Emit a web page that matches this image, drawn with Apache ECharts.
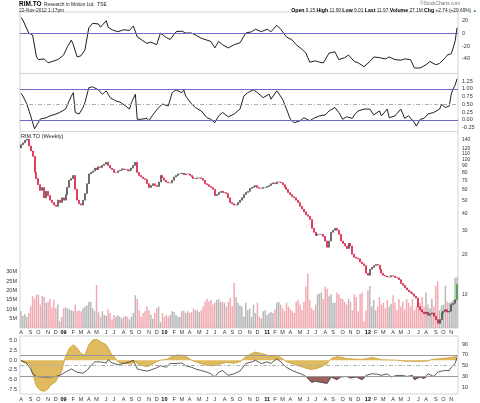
<!DOCTYPE html>
<html>
<head>
<meta charset="utf-8">
<title>RIM.TO weekly</title>
<script src="https://cdn.jsdelivr.net/npm/echarts@6/dist/echarts.min.js"></script>
<style>
  html, body { margin: 0; padding: 0; background: #fff; }
  #chart { width: 480px; height: 403px; }
</style>
</head>
<body>
<div id="chart"></div>
<script>
'use strict';

// weekly closes, Aug 1 2008 .. Nov 23 2012
var firstOpen = 121;
var closes = [
  128, 132, 138, 140, 125, 115, 105, 80, 72, 65,
  59, 62, 52, 58, 54, 50, 48, 46, 45, 50,
  48, 52, 50, 55, 62, 70, 72, 76, 60, 50,
  47, 46, 50, 56, 66, 78, 80, 82, 86, 84,
  88, 87, 90, 92, 95, 90, 86, 84, 80, 80,
  82, 83, 85, 84, 84, 82, 83, 86, 90, 95,
  80, 76, 74, 72, 71, 66, 62, 64, 66, 64,
  63, 68, 76, 73, 70, 68, 67, 67, 70, 74,
  76, 78, 78, 79, 77, 78, 78, 76, 74, 72,
  72, 73, 73, 72, 70, 66, 65, 63, 62, 60,
  54, 55, 57, 58, 57, 57, 56, 52, 48, 47,
  46, 46, 48, 50, 52, 55, 57, 58, 61, 62,
  63, 64, 62, 61, 61, 62, 62, 63, 64, 66,
  67, 66, 68, 68, 67, 65, 62, 60, 57, 55,
  53, 52, 50, 48, 45, 43, 41, 39, 38, 36,
  31, 29, 27.5, 28, 28, 28, 27, 25, 22.5, 25,
  29, 30, 31, 30, 28, 25, 24, 23, 22, 24,
  23, 20, 19, 18.7, 18.5, 17.5, 17, 16.5, 14.5, 14,
  15.5, 16, 16.5, 16.8, 16.6, 15.5, 14.5, 14, 13.8, 13.6,
  13.6, 13.9, 13.8, 13.5, 13.4, 13.0, 12.2, 11.8, 11.3, 10.9,
  10.6, 10.4, 10.2, 9.8, 9.5, 8.2, 7.8, 7.5, 7.3, 7.5,
  7.1, 7.3, 7.4, 7.0, 6.6, 6.2, 6.6, 7.4, 7.6, 7.8,
  7.5, 7.6, 8.5, 8.7, 9.23, 11.97
];

// weekly volume, millions
var volumes = [
  9, 6.5, 7.5, 6, 8, 11.6, 17, 15.5, 17.6, 18,
  12.5, 17, 16.5, 13.5, 14, 15.5, 11, 15, 10.5, 12.5,
  3.5, 6, 10.5, 11, 10.5, 10, 9.5, 9, 12.5, 9,
  9.5, 9, 10.5, 11.3, 12, 14, 14, 10.5, 9, 23,
  8.5, 6, 9, 7, 6.5, 10, 8, 4.5, 7, 6,
  7, 6, 5, 6, 6.5, 6, 4.5, 6, 8, 17.5,
  15.5, 9.5, 6, 8, 9, 11.5, 9.5, 7, 5, 8,
  10.5, 11.5, 3, 8, 6, 7, 6, 7, 9, 8.5,
  7, 6, 6, 9, 9.5, 8, 9, 8, 8.5, 10.5,
  9.5, 9.5, 8.5, 9.5, 11.5, 14.2, 15.5, 14.2, 15, 12.5,
  13.5, 15, 15.5, 14, 14, 13.5, 11.5, 14, 16, 11.5,
  24, 16.5, 13.5, 12, 11.5, 6, 13.5, 9.5, 10.5, 6,
  12.5, 8, 13.5, 6, 5, 9, 9.5, 7, 8, 8.5,
  8, 10, 13.5, 14, 12.5, 10.5, 9, 13.5, 11.5, 10,
  9, 8, 14, 15, 12.5, 9.5, 14, 22, 29, 15,
  10.5, 9.5, 12.5, 18, 18.4, 19, 15.5, 22, 21, 17,
  18, 13.5, 13.5, 19, 18, 16, 15.5, 14, 12.5, 15.5,
  14, 9.5, 18, 16.5, 9, 18, 19, 3.5, 9.5, 20,
  22.5, 11.5, 15, 9.5, 11.5, 16.5, 12.5, 13.5, 10.5, 15,
  11.5, 13, 17.5, 13.5, 9.5, 15.5, 11.5, 14, 10, 15.5,
  13.5, 11.5, 15.5, 9.5, 11.5, 14, 13.5, 16.5, 11.5, 19,
  12.5, 10.5, 15.5, 11.5, 22.5, 25, 9.5, 12, 12.5, 22.5,
  14, 13.5, 14, 15, 26.8, 27.1
];

// top oscillator [week, value]
var oscTop = [
  [0, 24], [1, 20], [2, 17], [4, 0], [6, -3], [8, -37], [9, -41], [12, -40], [14, -46],
  [17, -43], [19, -41], [22, -34], [24, -21], [26, -11], [27, -18], [29, -37], [31, -35],
  [33, -26], [35, 8], [37, 15], [40, 14], [41, 9], [44, 19], [45, 9], [47, 5], [50, 2],
  [53, 5], [56, 4], [58, 11], [60, -6], [62, -10], [65, -16], [67, -14], [70, -18],
  [72, 0], [75, -7], [77, -10], [80, 2], [83, 3], [85, 0], [88, 0], [90, -3], [93, -8],
  [96, -11], [98, -13], [100, -23], [102, -13], [104, -18], [107, -23], [110, -18],
  [113, -15], [116, 0], [119, 2], [121, 6], [124, 2], [127, 6], [129, 2], [132, 12],
  [134, 6], [137, -6], [140, -11], [142, -18], [145, -25], [147, -31], [149, -45],
  [152, -43], [154, -45], [156, -46], [159, -31], [162, -29], [164, -41], [167, -38],
  [169, -34], [172, -44], [174, -46], [177, -52], [180, -44], [182, -37], [185, -38],
  [188, -40], [190, -37], [193, -41], [196, -42], [198, -40], [201, -41], [203, -54],
  [206, -54], [209, -49], [211, -44], [214, -49], [216, -47], [219, -38], [220, -34],
  [222, -32], [223, -23], [224, -13], [225, 8]
];

// second oscillator [week, value]
var oscMid = [
  [0, 0.86], [1, 0.77], [3, 0.52], [5, 0.13], [6, 0.07], [7, -0.29], [10, 0.03], [13, 0.07],
  [15, 0.13], [18, 0.19], [20, 0.24], [23, 0.35], [26, 0.77], [27, 0.88], [28, 0.24],
  [30, 0.19], [32, 0.40], [33, 0.56], [35, 1.04], [37, 1.07], [40, 0.97], [42, 0.83],
  [44, 0.94], [46, 0.72], [49, 0.61], [51, 0.58], [54, 0.45], [56, 0.35], [57, 0.56],
  [59, 0.83], [60, 0.02], [62, 0.02], [65, 0.05], [66, -0.03], [68, 0.16], [71, 0.40],
  [73, 0.51], [76, 0.45], [78, 0.88], [80, 0.97], [83, 0.88], [84, 0.97], [85, 0.77],
  [88, 0.52], [90, 0.40], [93, 0.29], [96, 0.07], [98, 0.02], [100, -0.09], [102, 0.13],
  [104, 0.24], [107, 0.10], [110, 0.19], [113, 0.35], [114, 0.29], [115, 0.77], [117, 0.88],
  [120, 0.97], [122, 0.88], [125, 0.72], [128, 0.83], [129, 0.67], [132, 0.94], [133, 1.0],
  [135, 0.67], [137, 0.35], [139, 0.02], [141, -0.09], [144, -0.03], [146, 0.07],
  [149, -0.03], [151, 0.05], [154, 0.13], [157, 0.16], [159, 0.29], [162, 0.40], [164, 0.24],
  [166, 0.02], [168, 0.10], [171, 0.05], [172, 0.16], [174, 0.29], [177, 0.35], [180, 0.35],
  [182, 0.16], [185, 0.29], [186, 0.13], [189, 0.35], [190, 0.07], [193, 0.13], [196, 0.35],
  [198, 0.05], [200, 0.13], [203, -0.09], [204, -0.20], [206, 0.02], [208, 0.05],
  [210, 0.19], [213, 0.24], [216, 0.35], [217, 0.50], [219, 0.40], [221, 0.45], [222, 0.83],
  [223, 1.0], [224, 1.12], [225, 1.33]
];

// bottom panel histogram (left axis) [week, value]
var macdHist = [
  [0, -0.3], [2, -0.6], [4, -0.9], [5, -1.5], [6, -3.4], [8, -6.8], [10, -7.8], [12, -8.1],
  [14, -7.4], [15, -6.6], [18, -5.5], [19, -4.6], [21, -2.9], [22, -0.9], [23, 1.0],
  [25, 3.1], [27, 4.0], [29, 3.1], [31, 1.7], [33, 1.3], [35, 4.0], [37, 5.2], [39, 5.4],
  [41, 4.8], [44, 4.0], [45, 3.5], [47, 1.3], [49, 0.4], [50, -0.4], [52, -0.8], [57, -1.0],
  [59, -0.2], [60, -0.9], [62, -1.3], [65, -1.7], [67, -1.3], [70, -0.4], [72, 0], [75, 0.2],
  [77, 0.7], [80, 1.3], [83, 1.3], [85, 1.0], [88, 0], [90, -0.4], [93, -0.9], [96, -1.3],
  [98, -1.5], [101, -1.3], [103, -0.9], [106, -0.6], [110, -0.8], [113, -0.4], [116, 0.9],
  [119, 1.7], [121, 2.1], [124, 1.7], [127, 1.3], [129, 1.0], [132, 1.3], [134, 0.7],
  [137, -0.4], [140, -0.9], [142, -1.3], [145, -1.7], [147, -2.1], [150, -2.4], [153, -2.1],
  [155, -1.7], [158, -0.9], [160, 0.4], [163, 0.9], [166, 0.7], [168, 0.4], [175, 0.2],
  [179, 0.4], [181, 0.7], [184, 0.4], [186, 0.1], [194, 0], [197, -0.2], [200, -0.3],
  [207, -0.3], [210, -0.2], [212, 0.2], [217, 0.4], [222, 0.7], [225, 1.0]
];

// bottom panel RSI (right axis) [week, value]
var rsi = [
  [0, 60], [1, 57], [3, 54], [5, 44], [6, 35], [8, 30], [12, 29], [15, 29], [18, 30], [20, 32],
  [23, 38], [26, 44], [27, 46], [29, 38], [32, 36], [34, 41], [36, 50], [38, 57], [41, 57],
  [44, 55], [45, 61], [47, 55], [50, 52], [53, 54], [56, 57], [58, 60], [60, 44], [62, 42],
  [65, 40], [67, 42], [70, 46], [72, 50], [75, 47], [77, 54], [80, 54], [83, 55], [85, 50],
  [88, 47], [90, 44], [93, 41], [96, 38], [98, 35], [100, 29], [102, 38], [104, 41],
  [107, 32], [110, 35], [113, 40], [116, 54], [119, 57], [121, 60], [124, 54], [127, 57],
  [129, 54], [132, 63], [134, 57], [137, 47], [140, 41], [142, 38], [145, 34], [147, 30],
  [150, 19], [152, 21], [155, 19], [158, 17], [160, 29], [163, 24], [165, 29], [168, 30],
  [170, 27], [173, 29], [176, 24], [178, 32], [181, 35], [184, 34], [186, 32], [189, 35],
  [191, 29], [194, 32], [197, 32], [199, 30], [202, 32], [203, 24], [206, 29], [208, 26],
  [210, 35], [213, 30], [215, 38], [217, 40], [219, 41], [221, 41], [222, 47], [224, 54],
  [225, 65]
];

var priceTicks = [10, 20, 30, 40, 50, 60, 70, 80, 90, 100, 110, 120, 130, 140];
var monthLetters = 'JFMAMJJASOND';

// week categories
var weeks = [];
for (var i = 0; i < closes.length; i++) {
  weeks.push(new Date(Date.UTC(2008, 7, 1) + i * 7 * 86400000));
}
var cats = weeks.map(function (d) { return d.toISOString().slice(0, 10); });

var lg = function (v) { return Math.log10(v); };
var FONT = 'Liberation Sans';

var candleData = closes.map(function (c, i) {
  var o = i === 0 ? firstOpen : closes[i - 1];
  var item = { value: [lg(o), lg(c), lg(Math.min(o, c)), lg(Math.max(o, c))] };
  if (i === closes.length - 1) item.itemStyle = { color: '#3c9a3c', borderColor: '#3c9a3c' };
  return item;
});
var volData = volumes.map(function (v, i) {
  var o = i === 0 ? firstOpen : closes[i - 1];
  return { value: v, itemStyle: { color: closes[i] >= o ? '#b8b8b8' : '#f2aab2' } };
});
var rsiBase = rsi.map(function (p) { return [p[0], Math.min(p[1], 30)]; });
var rsiFill = rsi.map(function (p) { return [p[0], 30 - Math.min(p[1], 30)]; });

function near(v, step) { return Math.abs(v / step - Math.round(v / step)) < 1e-6; }

function monthAxis(grid, show, margin) {
  return {
    type: 'category', gridIndex: grid, data: cats, boundaryGap: true,
    axisLine: { show: false }, axisTick: { show: false }, splitLine: { show: false },
    axisLabel: {
      show: show, fontSize: 5.5, fontFamily: FONT, color: '#333', margin: margin,
      interval: function (idx) {
        return idx === 0 || weeks[idx].getUTCMonth() !== weeks[idx - 1].getUTCMonth();
      },
      formatter: function (val) {
        var d = new Date(val);
        var m = d.getUTCMonth();
        if (m === 0) return '{y|' + String(d.getUTCFullYear()).slice(2) + '}';
        return monthLetters[m];
      },
      rich: { y: { fontSize: 5.5, fontWeight: 'bold', color: '#000', fontFamily: FONT } }
    }
  };
}

function valAxis(grid, pos, min, max, interval, fmt, margin) {
  return {
    type: 'value', gridIndex: grid, position: pos, min: min, max: max, interval: interval,
    axisLine: { show: false }, axisTick: { show: false }, splitLine: { show: false },
    axisLabel: { fontSize: 5.5, fontFamily: FONT, color: '#333', margin: margin || 4, formatter: fmt }
  };
}

function hLines(list) {
  return {
    silent: true, symbol: 'none', animation: false, label: { show: false },
    data: list.map(function (l) {
      return { yAxis: l[0], lineStyle: { color: l[1], type: l[2] || 'solid', width: 1 } };
    })
  };
}

var chart = echarts.init(document.getElementById('chart'));
chart.setOption({
  animation: false,
  backgroundColor: '#fff',
  grid: [
    { left: 20, right: 22, top: 12, height: 61.5, show: true, borderColor: '#d4d4d4', borderWidth: 1 },
    { left: 20, right: 22, top: 73.5, height: 58, show: true, borderColor: '#d4d4d4', borderWidth: 1 },
    { left: 20, right: 22, top: 131.5, height: 196.5, show: true, borderColor: '#d4d4d4', borderWidth: 1 },
    { left: 20, right: 22, top: 336, height: 58, show: true, borderColor: '#d4d4d4', borderWidth: 1 }
  ],
  xAxis: [monthAxis(0, false, 2), monthAxis(1, false, 2), monthAxis(2, true, 1.5), monthAxis(3, true, 2)],
  yAxis: [
    valAxis(0, 'right', -62.5, 32.5, 2.5, function (v) {
      return near(v, 20) && v >= -40 && v <= 20 ? String(Math.round(v)) : '';
    }),
    valAxis(1, 'right', -0.375, 1.5, 0.125, function (v) {
      return near(v, 0.25) && v < 1.4 ? v.toFixed(2) : '';
    }),
    {
      type: 'value', gridIndex: 2, position: 'right', min: 0.758, max: 2.204,
      axisLine: { show: false }, axisTick: { show: false }, splitLine: { show: false },
      axisLabel: {
        fontSize: 5, fontFamily: FONT, color: '#333', margin: 4, interval: 0,
        hideOverlap: false, showMaxLabel: true, showMinLabel: true,
        customValues: priceTicks.map(lg),
        formatter: function (v) { return String(Math.round(Math.pow(10, v))); }
      }
    },
    valAxis(2, 'left', 0, 105, 5, function (v) {
      return v >= 5 && v <= 30 ? Math.round(v) + 'M' : '';
    }, 3),
    valAxis(3, 'left', -8.75, 6.25, 1.25, function (v) {
      return near(v, 2.5) && v >= -7.5 && v <= 5 ? v.toFixed(1) : '';
    }, 3),
    valAxis(3, 'right', -2.5, 105, 2.5, function (v) {
      return near(v - 10, 20) && v >= 10 && v <= 90 ? String(Math.round(v)) : '';
    })
  ],
  series: [
    {
      type: 'line', xAxisIndex: 0, yAxisIndex: 0, data: oscTop, showSymbol: false,
      lineStyle: { color: '#241c1c', width: 1 },
      markLine: hLines([[0, '#6b6bc6']])
    },
    {
      type: 'line', xAxisIndex: 1, yAxisIndex: 1, data: oscMid, showSymbol: false,
      lineStyle: { color: '#222', width: 1 },
      markLine: hLines([[1, '#6b6bc6'], [0, '#6b6bc6'], [0.5, '#b0b0b0', [4, 2, 1, 2]]])
    },
    {
      type: 'bar', xAxisIndex: 2, yAxisIndex: 3, data: volData, barWidth: 1.5, z: 1
    },
    {
      type: 'candlestick', xAxisIndex: 2, yAxisIndex: 2, data: candleData, barWidth: 1.5, z: 3,
      itemStyle: {
        color: '#555', color0: '#d8103a', borderColor: '#444', borderColor0: '#d8103a', borderWidth: 0.6
      }
    },
    {
      type: 'line', xAxisIndex: 3, yAxisIndex: 4, data: macdHist, showSymbol: false,
      lineStyle: { color: '#c99a2e', width: 0.8 },
      areaStyle: { color: '#ddb24c', opacity: 0.9 }
    },
    {
      type: 'line', xAxisIndex: 3, yAxisIndex: 5, data: rsiBase, showSymbol: false, stack: 'rsi',
      lineStyle: { opacity: 0 }
    },
    {
      type: 'line', xAxisIndex: 3, yAxisIndex: 5, data: rsiFill, showSymbol: false, stack: 'rsi',
      lineStyle: { opacity: 0 }, areaStyle: { color: '#9e625e', opacity: 1 }
    },
    {
      type: 'line', xAxisIndex: 3, yAxisIndex: 5, data: rsi, showSymbol: false,
      lineStyle: { color: '#333', width: 0.8 },
      markLine: hLines([[70, '#9a9a9a'], [30, '#9a9a9a'], [50, '#b0b0b0', [4, 2, 1, 2]]])
    }
  ],
  graphic: [
    { type: 'text', left: 19, top: 1, style: { text: 'RIM.TO', font: 'bold 6.5px ' + FONT, fill: '#000' } },
    { type: 'text', left: 44, top: 2.5, style: { text: 'Research in Motion Ltd.  TSE', font: '4.8px ' + FONT, fill: '#222' } },
    { type: 'text', left: 19, top: 8.5, style: { text: '22-Nov-2012 1:17pm', font: '4.8px ' + FONT, fill: '#222' } },
    { type: 'text', right: 20, top: 1, style: { text: '\u00a9StockCharts.com', font: '4.8px ' + FONT, fill: '#777' } },
    {
      type: 'text', right: 3, top: 8,
      style: {
        text: '{b|Open} 9.15 {b|High} 11.99 {b|Low} 9.01 {b|Last} 11.97 {b|Volume} 27.1M {b|Chg} +2.74 (+29.69%) {g|\u25b2}',
        font: '4.8px ' + FONT, fill: '#222',
        rich: {
          b: { font: 'bold 5.2px ' + FONT, fill: '#000' },
          g: { font: '4.5px ' + FONT, fill: '#2e9a2e' }
        }
      }
    },
    { type: 'text', left: 21, top: 133, style: { text: 'RIM.TO (Weekly)', font: '5.5px ' + FONT, fill: '#222' } }
  ]
});
</script>
</body>
</html>
